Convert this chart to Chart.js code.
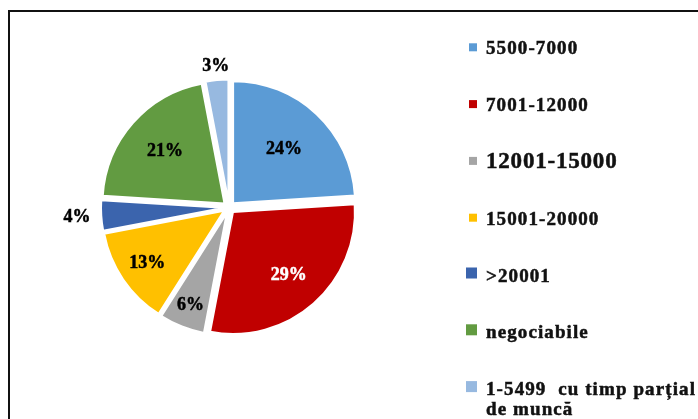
<!DOCTYPE html>
<html>
<head>
<meta charset="utf-8">
<script src="https://cdn.jsdelivr.net/npm/chart.js@4/dist/chart.umd.min.js"></script>
<style>
  body { margin: 0; background: #fff; overflow: hidden; }
  canvas { display: block; }
</style>
</head>
<body>
<canvas id="salaryPie" width="698" height="419"></canvas>
<script>
// salary ranges (lei) and share of job offers, %
const categories = ['5500-7000', '7001-12000', '12001-15000', '15001-20000', '>20001', 'negociabile', ['1-5499  cu timp parțial', 'de muncă']];
const shares = [24, 29, 6, 13, 4, 21, 3];
const sliceColors = ['#5B9BD5', '#C00000', '#A5A5A5', '#FFC000', '#3B64AD', '#629B41', '#97B9E0'];
const labelColors = ['#000', '#fff', '#000', '#000', '#000', '#000', '#000'];

// where each % label sits, as a fraction of the radius
const labelRadius = [0.61, 0.69, 0.81, 0.76, 1.2, 0.65, 1.11];
const legendFontSize = [19, 19, 23, 19, 19, 19, 19];
const legendBoxSize = [8, 8, 8, 8, 11, 11, 11];

const EXPLODE = 6;
const SERIF = '"Liberation Serif", "DejaVu Serif", serif';

function heavyText(ctx, text, x, y) {
    // cambria bold in the original is heavier than liberation bold
    ctx.strokeStyle = ctx.fillStyle;
    ctx.lineWidth = 0.5;
    ctx.strokeText(text, x, y);
    ctx.fillText(text, x, y);
}

const frame = {
    id: 'frame',
    beforeDraw(chart) {
        const ctx = chart.ctx;
        ctx.save();
        ctx.fillStyle = '#111';
        ctx.fillRect(8, 10, chart.width, 2);
        ctx.fillRect(8, 10, 2, chart.height);
        ctx.restore();
    }
};

// pull every slice a bit out from the middle
const explode = {
    id: 'explode',
    afterDatasetsUpdate(chart) {
        for (let arc of chart.getDatasetMeta(0).data) {
            const mid = (arc.startAngle + arc.endAngle) / 2;
            arc.x += Math.cos(mid) * EXPLODE;
            arc.y += Math.sin(mid) * EXPLODE;
        }
    }
};

const pctLabels = {
    id: 'pctLabels',
    afterDatasetsDraw(chart) {
        const ctx = chart.ctx;
        ctx.save();
        ctx.font = 'bold 18px ' + SERIF;
        ctx.textAlign = 'center';
        ctx.textBaseline = 'middle';
        chart.getDatasetMeta(0).data.forEach((arc, i) => {
            const mid = (arc.startAngle + arc.endAngle) / 2;
            const r = arc.outerRadius * labelRadius[i];
            ctx.fillStyle = labelColors[i];
            heavyText(ctx, shares[i] + '%', arc.x + Math.cos(mid) * r, arc.y + Math.sin(mid) * r);
        });
        ctx.restore();
    }
};

const sideLegend = {
    id: 'sideLegend',
    afterDraw(chart) {
        const ctx = chart.ctx;
        const textX = 486;
        ctx.save();
        ctx.textBaseline = 'alphabetic';
        categories.forEach((name, i) => {
            const base = 54.3 + i * 56.8;
            const box = legendBoxSize[i];
            ctx.fillStyle = sliceColors[i];
            ctx.fillRect(textX - 9 - box, base - 3 - box, box, box);

            ctx.fillStyle = '#111';
            ctx.font = 'bold ' + legendFontSize[i] + 'px ' + SERIF;
            ctx.letterSpacing = legendFontSize[i] > 20 ? '0.8px' : '1.1px';
            const lines = Array.isArray(name) ? name : [name];
            lines.forEach((line, j) => heavyText(ctx, line, textX, base + j * 20));
        });
        ctx.restore();
    }
};

new Chart(document.getElementById('salaryPie'), {
    type: 'pie',
    data: {
        labels: categories,
        datasets: [{
            data: shares,
            backgroundColor: sliceColors,
            borderColor: '#fff',
            borderWidth: 2
        }]
    },
    options: {
        responsive: false,
        animation: false,
        radius: 122,
        layout: { padding: { left: 0, right: 240, top: 0, bottom: 4 } },
        plugins: {
            legend: { display: false },
            tooltip: { enabled: false }
        }
    },
    plugins: [frame, explode, pctLabels, sideLegend]
});
</script>
</body>
</html>
